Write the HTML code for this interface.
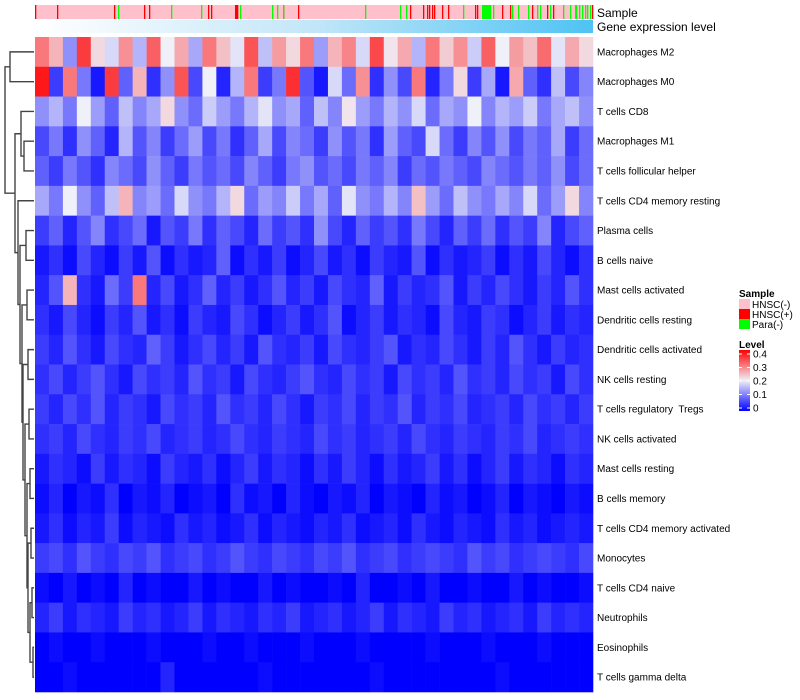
<!DOCTYPE html>
<html><head><meta charset="utf-8">
<style>
html,body{margin:0;padding:0;background:#fff;width:800px;height:700px;overflow:hidden;font-family:"Liberation Sans",sans-serif;}
svg{display:block}
text{font-family:"Liberation Sans",sans-serif;fill:#000;white-space:pre}
</style></head>
<body>
<svg id="chart" width="800" height="700">
<defs>
<linearGradient id="geneGrad" x1="0" x2="1" y1="0" y2="0">
<stop offset="0" stop-color="#ffffff"/><stop offset="0.5" stop-color="#c2e6f8"/><stop offset="1" stop-color="#4ec3f3"/>
</linearGradient>
<linearGradient id="levelGrad" x1="0" x2="0" y1="1" y2="0">
<stop offset="0" stop-color="#0000ff"/><stop offset="0.5" stop-color="#f0f0f8"/><stop offset="1" stop-color="#ff0000"/>
</linearGradient>
</defs>
<g id="dendro"></g>
<g id="annot"></g>
<rect x="35" y="20" width="558" height="13" fill="url(#geneGrad)"/>
<text x="597" y="17" font-size="12">Sample</text>
<text x="597" y="31" font-size="12">Gene expression level</text>
<g id="cells"></g>
<g id="rowlabels"></g>
<g>
<text x="739" y="297" font-size="10" font-weight="bold">Sample</text>
<rect x="739" y="299" width="11" height="10" fill="#ffc0cb"/>
<text x="752" y="308" font-size="10">HNSC(-)</text>
<rect x="739" y="309" width="11" height="10" fill="#ff0000"/>
<text x="752" y="318" font-size="10">HNSC(+)</text>
<rect x="739" y="319" width="11" height="10" fill="#00ff00"/>
<text x="752" y="328" font-size="10">Para(-)</text>
<text x="739" y="348" font-size="10" font-weight="bold">Level</text>
<rect x="739" y="350" width="11" height="61" fill="url(#levelGrad)"/>
<g id="levelticks"></g>
</g>
</svg>
<script>
const rowNames=["Macrophages M2","Macrophages M0","T cells CD8","Macrophages M1","T cells follicular helper","T cells CD4 memory resting","Plasma cells","B cells naive","Mast cells activated","Dendritic cells resting","Dendritic cells activated","NK cells resting","T cells regulatory  Tregs","NK cells activated","Mast cells resting","B cells memory","T cells CD4 memory activated","Monocytes","T cells CD4 naive","Neutrophils","Eosinophils","T cells gamma delta"];
const macroM2=[0.3,0.25,0.12,0.35,0.22,0.18,0.28,0.15,0.32,0.2,0.26,0.14,0.3,0.24,0.19,0.33,0.16,0.27,0.22,0.3,0.13,0.25,0.29,0.18,0.34,0.21,0.26,0.15,0.3,0.23,0.28,0.17,0.32,0.2,0.27,0.24,0.31,0.19,0.26,0.22];
const macroM0=[0.38,0.05,0.3,0.1,0.02,0.35,0.08,0.25,0.04,0.12,0.33,0.06,0.2,0.03,0.15,0.3,0.05,0.1,0.36,0.07,0.02,0.18,0.09,0.28,0.04,0.12,0.06,0.3,0.03,0.1,0.22,0.05,0.14,0.02,0.26,0.08,0.04,0.16,0.06,0.11];
const tCD8=[0.12,0.15,0.1,0.2,0.13,0.08,0.16,0.11,0.14,0.22,0.12,0.09,0.17,0.13,0.1,0.15,0.19,0.12,0.14,0.08,0.16,0.11,0.21,0.13,0.1,0.15,0.12,0.18,0.09,0.14,0.12,0.2,0.11,0.15,0.13,0.17,0.1,0.14,0.16,0.12];
const macroM1=[0.06,0.1,0.04,0.12,0.08,0.03,0.15,0.07,0.11,0.05,0.09,0.13,0.06,0.1,0.04,0.08,0.14,0.06,0.11,0.09,0.05,0.12,0.07,0.1,0.04,0.13,0.08,0.06,0.18,0.09,0.05,0.11,0.07,0.12,0.06,0.1,0.08,0.14,0.05,0.09];
const tfh=[0.08,0.05,0.1,0.07,0.04,0.11,0.09,0.06,0.12,0.08,0.05,0.1,0.07,0.09,0.06,0.11,0.08,0.05,0.1,0.12,0.07,0.09,0.06,0.1,0.08,0.11,0.05,0.09,0.07,0.1,0.08,0.06,0.11,0.09,0.07,0.1,0.08,0.12,0.06,0.09];
const cd4MemRest=[0.14,0.1,0.2,0.12,0.08,0.16,0.25,0.11,0.13,0.09,0.18,0.12,0.1,0.15,0.22,0.09,0.13,0.11,0.17,0.1,0.14,0.08,0.19,0.12,0.1,0.15,0.11,0.24,0.13,0.09,0.16,0.12,0.1,0.14,0.11,0.18,0.09,0.13,0.22,0.11];
const plasma=[0.05,0.08,0.03,0.07,0.11,0.04,0.06,0.09,0.02,0.07,0.05,0.1,0.04,0.08,0.06,0.03,0.09,0.05,0.07,0.04,0.12,0.06,0.03,0.08,0.05,0.07,0.04,0.1,0.06,0.03,0.08,0.05,0.09,0.04,0.07,0.05,0.11,0.03,0.06,0.08];
const bNaive=[0.02,0.04,0.01,0.06,0.03,0.01,0.05,0.02,0.07,0.01,0.04,0.02,0.03,0.08,0.01,0.04,0.02,0.05,0.01,0.03,0.06,0.02,0.04,0.01,0.05,0.03,0.02,0.07,0.01,0.04,0.02,0.03,0.05,0.01,0.04,0.02,0.06,0.03,0.01,0.04];
const mastAct=[0.03,0.07,0.25,0.04,0.02,0.09,0.05,0.3,0.03,0.06,0.02,0.04,0.08,0.03,0.05,0.02,0.04,0.07,0.03,0.05,0.02,0.06,0.04,0.03,0.08,0.02,0.05,0.03,0.04,0.07,0.02,0.05,0.03,0.06,0.04,0.02,0.05,0.03,0.07,0.04];
const dcRest=[0.04,0.02,0.06,0.03,0.01,0.05,0.03,0.07,0.02,0.04,0.01,0.05,0.03,0.02,0.06,0.04,0.01,0.03,0.05,0.02,0.04,0.07,0.01,0.03,0.05,0.02,0.04,0.03,0.01,0.06,0.03,0.02,0.05,0.04,0.01,0.03,0.05,0.02,0.04,0.03];
const dcAct=[0.05,0.03,0.07,0.04,0.02,0.06,0.04,0.03,0.08,0.05,0.02,0.04,0.06,0.03,0.05,0.02,0.07,0.04,0.03,0.05,0.02,0.06,0.04,0.03,0.05,0.07,0.02,0.04,0.03,0.06,0.04,0.02,0.05,0.03,0.07,0.04,0.02,0.05,0.03,0.04];
const nkRest=[0.04,0.06,0.03,0.05,0.07,0.04,0.02,0.06,0.04,0.05,0.03,0.07,0.04,0.05,0.02,0.06,0.04,0.03,0.05,0.07,0.04,0.03,0.06,0.04,0.05,0.02,0.06,0.04,0.05,0.03,0.07,0.04,0.05,0.03,0.06,0.04,0.05,0.02,0.06,0.04];
const tregs=[0.05,0.03,0.06,0.04,0.07,0.03,0.05,0.04,0.02,0.06,0.04,0.05,0.03,0.07,0.04,0.05,0.03,0.06,0.04,0.02,0.05,0.04,0.06,0.03,0.05,0.04,0.07,0.03,0.05,0.04,0.06,0.03,0.04,0.05,0.03,0.06,0.04,0.05,0.03,0.05];
const nkAct=[0.04,0.05,0.03,0.06,0.04,0.03,0.05,0.04,0.06,0.03,0.04,0.05,0.03,0.04,0.06,0.04,0.03,0.05,0.04,0.03,0.06,0.04,0.05,0.03,0.04,0.05,0.03,0.06,0.04,0.03,0.05,0.04,0.03,0.05,0.04,0.06,0.03,0.04,0.05,0.04];
const mastRest=[0.02,0.04,0.03,0.01,0.05,0.02,0.04,0.03,0.01,0.05,0.03,0.02,0.04,0.01,0.03,0.05,0.02,0.04,0.03,0.01,0.04,0.02,0.05,0.03,0.01,0.04,0.02,0.03,0.05,0.02,0.04,0.01,0.03,0.05,0.02,0.04,0.03,0.01,0.04,0.03];
const bMem=[0.01,0.03,0.0,0.02,0.01,0.04,0.0,0.02,0.01,0.03,0.0,0.01,0.02,0.0,0.04,0.01,0.02,0.0,0.03,0.01,0.0,0.02,0.01,0.03,0.0,0.02,0.01,0.0,0.03,0.01,0.02,0.0,0.01,0.03,0.0,0.02,0.01,0.0,0.02,0.01];
const cd4MemAct=[0.02,0.04,0.01,0.03,0.02,0.05,0.01,0.03,0.02,0.01,0.04,0.02,0.03,0.01,0.02,0.04,0.01,0.03,0.02,0.01,0.03,0.02,0.04,0.01,0.02,0.03,0.01,0.04,0.02,0.01,0.03,0.02,0.01,0.04,0.02,0.03,0.01,0.02,0.03,0.02];
const monocytes=[0.05,0.06,0.04,0.07,0.05,0.04,0.06,0.05,0.07,0.04,0.05,0.06,0.04,0.05,0.07,0.05,0.04,0.06,0.05,0.04,0.06,0.05,0.07,0.04,0.05,0.06,0.04,0.05,0.06,0.05,0.04,0.07,0.05,0.06,0.04,0.05,0.06,0.05,0.04,0.06];
const cd4Naive=[0.01,0.0,0.02,0.0,0.01,0.0,0.03,0.0,0.01,0.0,0.0,0.02,0.0,0.01,0.0,0.0,0.02,0.0,0.01,0.0,0.0,0.01,0.0,0.03,0.0,0.0,0.01,0.0,0.02,0.0,0.0,0.01,0.0,0.0,0.02,0.0,0.01,0.0,0.0,0.01];
const neutro=[0.03,0.05,0.02,0.04,0.03,0.02,0.05,0.03,0.04,0.02,0.03,0.05,0.02,0.04,0.03,0.02,0.04,0.03,0.05,0.02,0.03,0.04,0.02,0.03,0.05,0.02,0.04,0.03,0.02,0.05,0.03,0.04,0.02,0.03,0.04,0.02,0.05,0.03,0.04,0.03];
const eosino=[0.0,0.01,0.0,0.0,0.01,0.0,0.0,0.0,0.01,0.0,0.0,0.0,0.01,0.0,0.0,0.01,0.0,0.0,0.0,0.01,0.0,0.0,0.0,0.01,0.0,0.0,0.0,0.0,0.01,0.0,0.0,0.0,0.01,0.0,0.0,0.0,0.01,0.0,0.0,0.0];
const gammaDelta=[0.0,0.0,0.01,0.0,0.0,0.0,0.0,0.0,0.0,0.03,0.0,0.0,0.0,0.0,0.0,0.0,0.01,0.0,0.0,0.0,0.0,0.0,0.0,0.0,0.01,0.0,0.0,0.0,0.0,0.0,0.0,0.0,0.0,0.01,0.0,0.0,0.0,0.0,0.0,0.0];
const rowValues=[macroM2,macroM0,tCD8,macroM1,tfh,cd4MemRest,plasma,bNaive,mastAct,dcRest,dcAct,nkRest,tregs,nkAct,mastRest,bMem,cd4MemAct,monocytes,cd4Naive,neutro,eosino,gammaDelta];
const nSamples=558;
const hnscPosIdx=[0,22,79,109,114,173,176,200,201,202,248,263,375,388,392,394,397,399,407,413,440,442,451,467,475,497,512,518,557];
const paraIdx=[83,136,166,205,237,242,248,330,365,371,428,447,448,449,450,451,452,453,454,455,458,477,483,493,502,505,515,528,535,540,541,544,547,550,552,555];
const levelTicks=[0,0.1,0.2,0.3,0.4];

const svg=document.getElementById('chart');
const NS='http://www.w3.org/2000/svg';
const X0=35,X1=593,Y0=37,Y1=692;
const rowH=(Y1-Y0)/rowNames.length;
function xCol(i,n){return X0+(X1-X0)*i/n;}
function yRow(r){return Y0+r*rowH;}
function lerp(a,b,t){return Math.round(a+(b-a)*t);}
function colorOf(v){
  const t=Math.max(0,Math.min(1,v/0.4));
  if(t<0.5){const u=t/0.5;return `rgb(${lerp(0,240,u)},${lerp(0,240,u)},${lerp(255,248,u)})`;}
  const u=(t-0.5)/0.5;return `rgb(${lerp(240,255,u)},${lerp(240,0,u)},${lerp(248,0,u)})`;
}
function mk(tag,attrs,parent){const e=document.createElementNS(NS,tag);for(const k in attrs)e.setAttribute(k,attrs[k]);parent.appendChild(e);return e;}

const annot=document.getElementById('annot');
const bg=mk('rect',{x:X0,y:5,width:X1-X0,height:14,fill:'#ffc0cb'},annot);


hnscPosIdx.forEach(i=>{
  const r=mk('rect',{x:xCol(i,nSamples),y:5,width:1.3,height:14,fill:'#ff0000'},annot);
  
  
});
paraIdx.forEach(i=>{
  const r=mk('rect',{x:xCol(i,nSamples),y:5,width:1.3,height:14,fill:'#00ff00'},annot);
  
  
});

const cells=document.getElementById('cells');
rowValues.forEach((vals,r)=>{
  const n=vals.length;
  vals.forEach((v,c)=>{
    const x=xCol(c,n),w=xCol(c+1,n)-x;
    const e=mk('rect',{x:x,y:yRow(r),width:w+0.3,height:rowH+0.3,fill:colorOf(v)},cells);
    
    
  });
});
const rl=document.getElementById('rowlabels');
rowNames.forEach((nm,r)=>{
  const t=mk('text',{x:597,y:yRow(r)+rowH/2+3.5,'font-size':10},rl);
  t.textContent=nm;
  
  
});
const lt=document.getElementById('levelticks');
levelTicks.forEach(v=>{
  const y=408-(v/0.4)*54;
  const t=mk('text',{x:753,y:y+3.5,'font-size':10},lt);
  t.textContent=String(v);
  
  
  mk('line',{x1:739,x2:742,y1:y,y2:y,stroke:'#fff','stroke-width':1},lt);
  mk('line',{x1:747,x2:750,y1:y,y2:y,stroke:'#fff','stroke-width':1},lt);
});
const tree=[5,[10,0,1],[15,[21,2,[24,3,4]],[18,5,[20,[26,6,7],[22,[27,8,9],[23,[28,10,11],[25,[29,12,13],[27,[30,14,15],[28,[31,16,17],[30,[32,18,19],[33,20,21]]]]]]]]]]];
const dg=document.getElementById('dendro');
function draw(node){
  if(typeof node==='number')return {x:X0-1,y:yRow(node)+rowH/2};
  const a=draw(node[1]),b=draw(node[2]);const h=node[0];
  const p=mk('path',{d:`M${a.x},${a.y}H${h}V${b.y}H${b.x}`,fill:'none',stroke:'#444','stroke-width':1.4},dg);
  
  
  return {x:h,y:(a.y+b.y)/2};
}
draw(tree);
</script>
</body></html>
